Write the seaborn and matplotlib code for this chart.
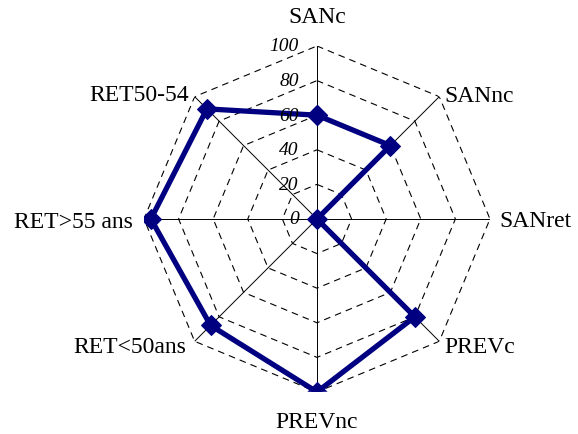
import numpy as np
import pandas as pd
import seaborn as sns
import matplotlib.pyplot as plt

categories = ['SANc', 'SANnc', 'SANret', 'PREVc', 'PREVnc', 'RET<50ans', 'RET>55 ans', 'RET50-54']
values = [60, 60, 0, 80, 100, 87, 96, 90]
ticks = [0, 20, 40, 60, 80, 100]

sns.set_style('white')
plt.rcParams['font.family'] = ['Liberation Serif', 'DejaVu Serif']
plt.rcParams['text.color'] = 'black'

fig = plt.figure(figsize=(5.78, 4.35), dpi=100)
ax = fig.add_axes([0.2491, 0.0966, 0.5986, 0.7954], projection='polar')
ax.set_theta_offset(np.pi / 2)
ax.set_theta_direction(-1)
ax.set_ylim(0, 100)
ax.grid(False)
ax.spines['polar'].set_visible(False)
ax.set_xticks([])
ax.set_yticks([])

n = len(categories)
angles = np.linspace(0, 2 * np.pi, n, endpoint=False)
closed = np.append(angles, angles[0])

# octogones en pointillés
for t in ticks[1:]:
    ax.plot(closed, [t] * (n + 1), color='black', lw=0.8, ls=(0, (6, 4.5)), zorder=1)

# rayons
for a in angles:
    ax.plot([a, a], [0, ticks[-1]], color='black', lw=0.7, zorder=1)

df = pd.DataFrame({'theta': closed, 'value': values + values[:1]})
sns.lineplot(data=df, x='theta', y='value', sort=False, estimator=None, ax=ax,
             color='#000080', lw=3.8, marker='D', markersize=10.5,
             markeredgecolor='#000080', zorder=3)
ax.set_xlabel('')
ax.set_ylabel('')

# étiquettes de l'échelle
for t in ticks:
    ax.annotate(str(t), xy=(0, t), xytext=(-13, 0), textcoords='offset points',
                ha='right', va='center', style='italic', fontsize=14)

# étiquettes des catégories (décalages en points)
offsets = [(0, 21, 'center'), (4, 1, 'left'), (6.5, -1, 'left'), (4, -4, 'left'),
           (0, -21, 'center'), (-6, -4, 'right'), (-8, -1.5, 'right'), (-4, 1.5, 'right')]
for a, lab, (dx, dy, ha) in zip(angles, categories, offsets):
    ax.annotate(lab, xy=(a, ticks[-1]), xytext=(dx, dy), textcoords='offset points',
                ha=ha, va='center', fontsize=17, annotation_clip=False)

fig.savefig('out.png', dpi=100)
